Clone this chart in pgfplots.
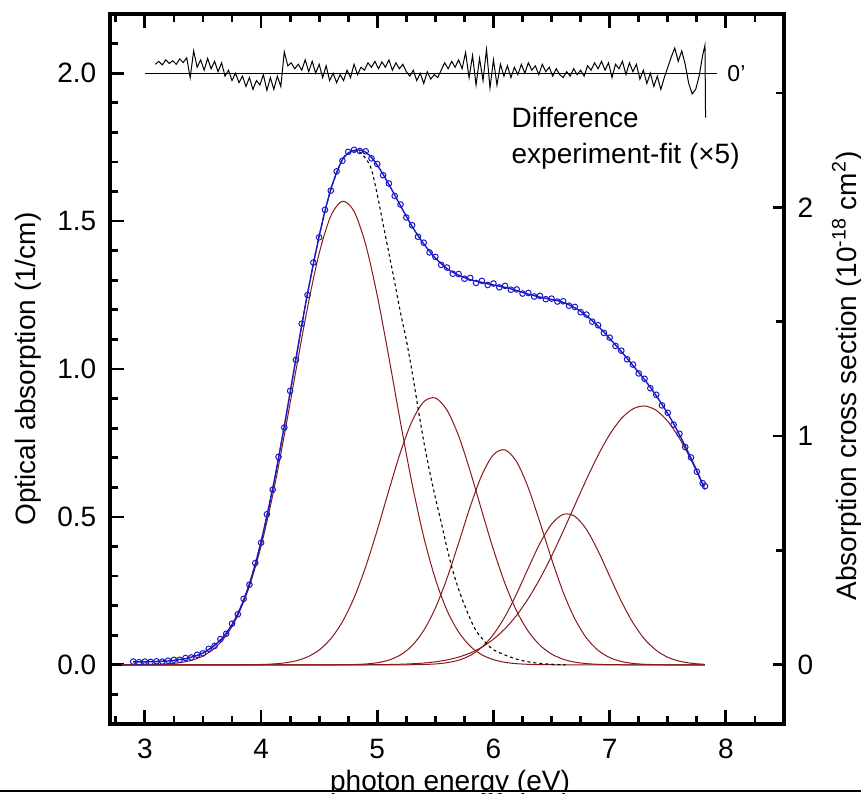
\documentclass[border=0pt]{standalone}
\usepackage{fontspec}
\setmainfont{Liberation Sans}
\usepackage{pgfplots}
\usepackage{pgfplotstable}
\pgfplotsset{compat=1.18}

\definecolor{datablue}{RGB}{25,25,200}
\definecolor{gaussred}{RGB}{135,25,25}

% Gaussian components of the fit (1/cm)
\pgfplotstableread{
E    g1     g2     g3     g4     g5
2.8  0.0001 0      0      0      0
2.9  0.0002 0      0      0      0
3.0  0.0006 0      0      0      0
3.1  0.0014 0      0      0      0
3.2  0.0033 0      0      0      0
3.3  0.0073 0      0      0      0
3.4  0.0151 0      0      0      0
3.5  0.0299 0      0      0      0
3.6  0.0560 0      0      0      0
3.7  0.0993 0      0      0      0
3.8  0.167  0.0001 0      0      0
3.9  0.266  0.0005 0      0      0
4.0  0.401  0.0012 0      0      0
4.1  0.573  0.0029 0      0      0
4.2  0.776  0.0064 0      0      0
4.3  0.995  0.0135 0      0      0
4.4  1.208  0.0268 0      0      0
4.5  1.391  0.0501 0      0      0
4.6  1.517  0.0881 0.0001 0      0
4.7  1.567  0.1456 0.0004 0      0
4.8  1.533  0.2263 0.0011 0      0.0001
4.9  1.421  0.3311 0.0029 0      0.0003
5.0  1.248  0.4557 0.0071 0      0.0006
5.1  1.039  0.5901 0.0160 0.0001 0.0011
5.2  0.819  0.7191 0.0336 0.0001 0.0020
5.3  0.611  0.8243 0.0651 0.0004 0.0036
5.4  0.432  0.889  0.1163 0.0012 0.0061
5.5  0.290  0.902  0.192  0.0030 0.0102
5.6  0.184  0.861  0.2925 0.0072 0.0166
5.7  0.111  0.774  0.4117 0.0157 0.0261
5.8  0.063  0.654  0.5349 0.0318 0.0401
5.9  0.034  0.520  0.6416 0.0595 0.0598
6.0  0.0174 0.389  0.7105 0.1028 0.0868
6.1  0.0084 0.274  0.7266 0.1638 0.1224
6.2  0.0039 0.181  0.686  0.241  0.168
6.3  0.0017 0.113  0.598  0.3274 0.2244
6.4  0.0007 0.0662 0.4814 0.4107 0.2913
6.5  0.0003 0.0365 0.3577 0.4757 0.3678
6.6  0.0001 0.0189 0.2455 0.5087 0.4518
6.7  0      0.0092 0.1555 0.5022 0.5396
6.8  0      0.0042 0.0909 0.4578 0.6269
6.9  0      0.0018 0.0491 0.3853 0.7083
7.0  0      0.0007 0.0245 0.2994 0.7786
7.1  0      0.0003 0.0113 0.2148 0.8322
7.2  0      0.0001 0.0048 0.1423 0.8652
7.3  0      0      0.0019 0.0870 0.875
7.4  0      0      0.0007 0.0492 0.8604
7.5  0      0      0.0002 0.0256 0.823
7.6  0      0      0.0001 0.0124 0.7656
7.7  0      0      0      0.0055 0.6928
7.8  0      0      0      0.0022 0.6097
7.82 0      0      0      0.0018 0.5924
}\gauss

% measured spectrum and fit
\pgfplotstableread{
E    fit   data
2.90 0.010 0.011
2.95 0.010 0.009
3.00 0.010 0.011
3.05 0.011 0.010
3.10 0.011 0.012
3.15 0.012 0.011
3.20 0.013 0.014
3.25 0.015 0.017
3.30 0.018 0.017
3.35 0.021 0.023
3.40 0.026 0.025
3.45 0.032 0.034
3.50 0.040 0.039
3.55 0.052 0.054
3.60 0.066 0.064
3.65 0.084 0.087
3.70 0.107 0.105
3.75 0.136 0.139
3.80 0.173 0.171
3.85 0.219 0.223
3.90 0.274 0.271
3.95 0.340 0.344
4.00 0.416 0.413
4.05 0.504 0.509
4.10 0.596 0.592
4.15 0.698 0.703
4.20 0.807 0.802
4.25 0.921 0.926
4.30 1.035 1.031
4.35 1.148 1.153
4.40 1.255 1.250
4.45 1.355 1.360
4.50 1.449 1.445
4.55 1.534 1.538
4.60 1.607 1.603
4.65 1.664 1.668
4.70 1.708 1.704
4.75 1.730 1.734
4.80 1.739 1.741
4.85 1.740 1.737
4.90 1.733 1.736
4.95 1.715 1.712
5.00 1.689 1.693
5.05 1.658 1.655
5.10 1.624 1.627
5.15 1.588 1.585
5.20 1.552 1.556
5.25 1.516 1.512
5.30 1.482 1.486
5.35 1.451 1.447
5.40 1.423 1.427
5.45 1.398 1.394
5.50 1.375 1.379
5.55 1.356 1.352
5.60 1.339 1.343
5.65 1.327 1.322
5.70 1.317 1.321
5.75 1.309 1.305
5.80 1.302 1.308
5.85 1.297 1.291
5.90 1.293 1.298
5.95 1.288 1.284
6.00 1.284 1.289
6.05 1.280 1.276
6.10 1.276 1.281
6.15 1.271 1.268
6.20 1.265 1.269
6.25 1.259 1.255
6.30 1.253 1.257
6.35 1.248 1.245
6.40 1.243 1.247
6.45 1.239 1.236
6.50 1.235 1.238
6.55 1.231 1.228
6.60 1.225 1.229
6.65 1.217 1.214
6.70 1.207 1.210
6.75 1.195 1.192
6.80 1.180 1.184
6.85 1.163 1.160
6.90 1.145 1.148
6.95 1.125 1.122
7.00 1.103 1.106
7.05 1.081 1.078
7.10 1.059 1.062
7.15 1.036 1.033
7.20 1.012 1.015
7.25 0.988 0.985
7.30 0.964 0.967
7.35 0.938 0.935
7.40 0.910 0.913
7.45 0.880 0.877
7.50 0.849 0.852
7.55 0.815 0.812
7.60 0.778 0.781
7.65 0.739 0.736
7.70 0.698 0.701
7.75 0.656 0.653
7.80 0.612 0.614
7.82 0.606 0.604
}\meas

% dashed reference curve
\pgfplotstableread{
E    y
3.00 0.010
3.30 0.018
3.40 0.026
3.50 0.040
3.60 0.066
3.70 0.107
3.80 0.173
3.90 0.274
4.00 0.416
4.10 0.596
4.20 0.807
4.30 1.035
4.40 1.255
4.50 1.449
4.60 1.607
4.70 1.708
4.75 1.730
4.80 1.737
4.85 1.733
4.90 1.712
4.95 1.675
5.00 1.590
5.05 1.490
5.10 1.392
5.15 1.292
5.20 1.190
5.25 1.098
5.30 0.990
5.35 0.870
5.40 0.755
5.45 0.655
5.50 0.565
5.55 0.482
5.60 0.395
5.65 0.318
5.70 0.255
5.75 0.203
5.80 0.155
5.85 0.115
5.90 0.090
5.95 0.068
6.00 0.051
6.10 0.033
6.20 0.019
6.30 0.010
6.40 0.005
6.50 0.002
6.62 0.000
}\dashed

% difference experiment-fit (x5), offset to 2.0
\pgfplotstableread{
E     y
3.09  2.030
3.12  2.040
3.15  2.028
3.18  2.045
3.21  2.033
3.24  2.042
3.27  2.030
3.30  2.048
3.33  2.036
3.36  2.052
3.39  1.985
3.42  2.075
3.45  2.020
3.48  2.045
3.51  2.010
3.54  2.050
3.57  2.015
3.60  2.040
3.63  2.005
3.66  2.035
3.69  1.990
3.72  2.010
3.75  1.975
3.78  2.000
3.81  1.968
3.84  1.990
3.87  1.955
3.90  1.985
3.93  1.945
3.96  1.975
3.99  1.960
4.02  1.995
4.05  1.942
4.08  1.985
4.11  1.945
4.14  1.990
4.17  1.955
4.20  2.072
4.23  2.025
4.26  2.035
4.29  2.015
4.32  2.030
4.35  2.010
4.38  2.045
4.41  2.005
4.44  2.040
4.47  2.000
4.50  2.030
4.53  1.985
4.56  2.025
4.59  1.975
4.62  2.000
4.65  1.968
4.68  1.995
4.71  1.975
4.74  2.010
4.77  1.985
4.80  2.030
4.83  1.995
4.86  2.020
4.89  2.010
4.92  2.035
4.95  2.020
4.98  2.040
5.01  2.015
5.04  2.038
5.07  2.020
5.10  2.045
5.13  2.010
5.16  2.035
5.19  2.015
5.22  2.030
5.25  2.005
5.28  1.990
5.31  2.010
5.34  1.975
5.37  2.000
5.40  1.965
5.43  2.005
5.46  1.980
5.49  1.995
5.52  1.985
5.55  2.010
5.58  2.035
5.61  2.015
5.64  2.040
5.67  2.020
5.70  2.045
5.73  2.015
5.76  2.070
5.79  1.985
5.82  2.060
5.85  1.960
5.88  2.050
5.91  1.975
5.94  2.080
5.97  1.950
6.00  2.045
6.03  1.960
6.06  2.030
6.09  1.990
6.12  2.025
6.15  1.985
6.18  2.020
6.21  1.995
6.24  2.030
6.27  2.000
6.30  2.035
6.33  2.010
6.36  2.025
6.39  1.995
6.42  2.030
6.45  2.005
6.48  2.020
6.51  1.990
6.54  2.015
6.57  1.995
6.60  1.985
6.63  2.005
6.66  1.990
6.69  2.015
6.72  1.995
6.75  2.010
6.78  1.990
6.81  2.025
6.84  2.010
6.87  2.035
6.90  2.015
6.93  2.040
6.96  2.010
6.99  2.035
7.02  1.985
7.05  2.030
7.08  2.015
7.11  2.040
7.14  1.995
7.17  2.035
7.20  2.005
7.23  2.030
7.26  1.980
7.29  2.010
7.32  1.965
7.35  2.000
7.38  1.955
7.41  1.990
7.44  1.945
7.47  1.985
7.50  2.020
7.53  2.055
7.56  2.085
7.59  2.040
7.62  2.075
7.65  2.030
7.68  1.965
7.71  1.930
7.74  1.945
7.77  1.990
7.80  2.060
7.82  2.095
7.825 1.850
}\diff

\begin{document}
\fontsize{14}{16}\selectfont
\begin{tikzpicture}
\useasboundingbox (-55pt,-34.5pt) rectangle (375.5pt,362pt);
\pgfplotsset{
  every axis/.append style={
    scale only axis, width=337pt, height=355pt,
    xmin=2.7, xmax=8.5,
    axis line style={line width=2pt},
    tick style={line width=1.4pt, black},
    major tick length=7pt, minor tick length=4pt,
    tick align=inside,
    tick label style={font=\fontsize{14}{16}\selectfont},
    /pgf/number format/assume math mode=true,
  }
}
\begin{axis}[
  ymin=-0.2, ymax=2.2,
  xtick={3,4,5,6,7,8},
  minor xtick={2.75,3.25,3.5,3.75,4.25,4.5,4.75,5.25,5.5,5.75,6.25,6.5,6.75,7.25,7.5,7.75,8.25},
  ytick={0,0.5,1,1.5,2},
  minor ytick={-0.1,0.1,0.2,0.3,0.4,0.6,0.7,0.8,0.9,1.1,1.2,1.3,1.4,1.6,1.7,1.8,1.9,2.1},
  ytick pos=left, xtick pos=both,
  yticklabel style={/pgf/number format/fixed, /pgf/number format/fixed zerofill,
    /pgf/number format/precision=1, xshift=-2pt},
  xticklabel style={yshift=-2.5pt},
  xlabel={photon energy (eV)},
  xlabel style={at={(axis description cs:0.5045,0)}, anchor=base, yshift=-33pt},
  ylabel={Optical absorption (1/cm)},
  ylabel style={at={(axis description cs:-0.1217,0.5)}, anchor=center},
]
\addplot[gaussred, line width=0.5pt, smooth] table[x=E, y=g1] {\gauss};
\addplot[gaussred, line width=0.5pt, smooth] table[x=E, y=g2] {\gauss};
\addplot[gaussred, line width=0.5pt, smooth] table[x=E, y=g3] {\gauss};
\addplot[gaussred, line width=0.5pt, smooth] table[x=E, y=g4] {\gauss};
\addplot[gaussred, line width=0.5pt, smooth] table[x=E, y=g5] {\gauss};
\addplot[black, line width=0.55pt, dash pattern=on 1.5pt off 1.5pt, smooth] table[x=E, y=y] {\dashed};
\addplot[datablue, line width=0.7pt, smooth] table[x=E, y=fit] {\meas};
\addplot[datablue, only marks, mark=o, mark size=1.4pt, mark options={line width=0.5pt}] table[x=E, y=data] {\meas};
\addplot[black, line width=0.6pt] coordinates {(3.0,2.0) (7.92,2.0)};
\addplot[black, line width=0.5pt] table[x=E, y=y] {\diff};
\node[anchor=west, font=\fontsize{11.5}{13}\selectfont] at (axis cs:7.93,2.0) {0'};
\node[anchor=base west, inner sep=0pt] at (axis cs:6.153,1.817) {Difference};
\node[anchor=base west, inner sep=0pt] at (axis cs:6.153,1.695) {experiment-fit (×5)};
\end{axis}
\begin{axis}[
  ymin=-0.2586, ymax=2.845,
  hide x axis, axis y line*=right,
  ytick={0,1,2}, minor ytick={0.5,1.5,2.5},
  major tick length=5.5pt, minor tick length=4pt,
  yticklabel style={xshift=2pt},
  ylabel={Absorption cross section (10\textsuperscript{-18} cm\textsuperscript{2})},
  ylabel style={at={(axis description cs:1.0935,0.49)}, anchor=center},
]
\end{axis}
\fill[white] (-55pt,-34.5pt) rectangle (375.5pt,-33.8pt);
\draw[line width=1pt] (-55pt,-33.3pt) -- (375.5pt,-33.3pt);
\end{tikzpicture}
\end{document}
